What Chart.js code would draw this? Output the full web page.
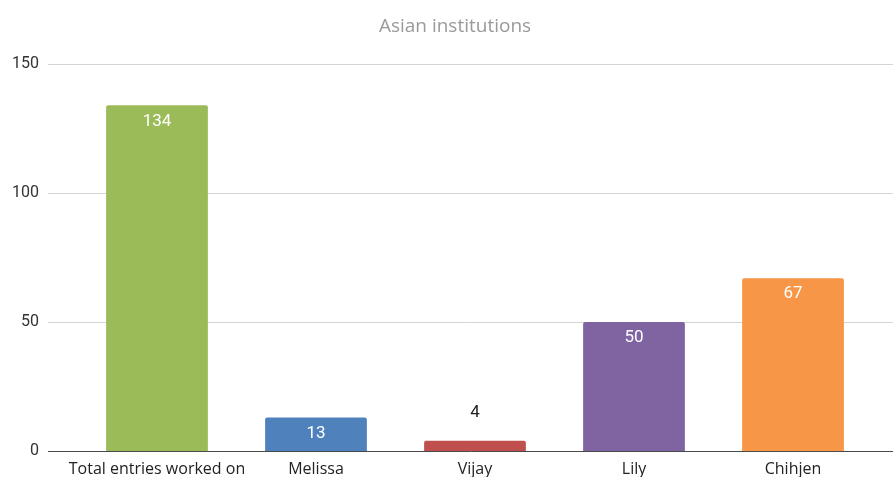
<!DOCTYPE html>
<html>
<head>
<meta charset="utf-8">
<script src="https://cdn.jsdelivr.net/npm/chart.js@4"></script>
<style>
  body { margin: 0; background: #fff; overflow: hidden; }
  canvas { display: block; }
</style>
</head>
<body>
<canvas id="myChart" width="893" height="477"></canvas>
<script>
const categories = ["Total entries worked on", "Melissa", "Vijay", "Lily", "Chihjen"];
const entries = [134, 13, 4, 50, 67];
const barColors = ["#9BBB59", "#4F81BD", "#C0504D", "#8064A2", "#F79646"];
const yTicks = [0, 50, 100, 150];
const chartTitle = "Asian institutions";

// grid lines run wider than the category area in the original
const fullGrid = {
  id: "fullGrid",
  beforeDatasetsDraw(chart) {
    const ctx = chart.ctx;
    const y = chart.scales.y;
    ctx.save();
    ctx.lineWidth = 1;
    y.ticks.forEach((t) => {
      const py = Math.round(y.getPixelForValue(t.value)) + 0.5;
      ctx.strokeStyle = t.value === 0 ? "#4a4a4a" : "#d4d4d4";
      ctx.beginPath();
      ctx.moveTo(48, py);
      ctx.lineTo(chart.width, py);
      ctx.stroke();
    });
    ctx.restore();
  },
};

const barLabels = {
  id: "barLabels",
  afterDatasetsDraw(chart) {
    const ctx = chart.ctx;
    const meta = chart.getDatasetMeta(0);
    ctx.save();
    ctx.font = "17px Roboto";
    ctx.textAlign = "center";
    ctx.textBaseline = "middle";
    meta.data.forEach((bar, i) => {
      const h = bar.base - bar.y;
      if (h > 24) {
        ctx.fillStyle = "#ffffff";
        ctx.fillText(entries[i], bar.x, bar.y + 16);
      } else {
        ctx.fillStyle = "#222222";
        ctx.fillText(entries[i], bar.x, bar.y - 28);
      }
    });
    ctx.fillStyle = "#9a9a9a";
    ctx.font = "19px 'Open Sans'";
    ctx.fillText(chartTitle, 455, 27);
    ctx.restore();
  },
};

const config = {
  type: "bar",
  data: {
    labels: categories,
    datasets: [
      {
        data: entries,
        backgroundColor: barColors,
        borderRadius: 2,
        borderSkipped: "bottom",
        barPercentage: 0.64,
        categoryPercentage: 1,
      },
    ],
  },
  options: {
    responsive: false,
    animation: false,
    layout: {
      padding: { top: 64, right: 20.5, left: 0, bottom: 0 },
    },
    plugins: {
      legend: { display: false },
      title: { display: false },
      tooltip: { enabled: false },
    },
    scales: {
      x: {
        grid: { display: false, drawTicks: false },
        border: { display: false },
        ticks: {
          color: "#222",
          font: { family: "'Open Sans'", size: 16 },
          padding: 9,
          maxRotation: 0,
          autoSkip: false,
        },
        afterFit(scale) {
          scale.height = 26;
        },
      },
      y: {
        min: 0,
        max: 150,
        afterBuildTicks(scale) {
          scale.ticks = yTicks.map((v) => ({ value: v }));
        },
        grid: { display: false, drawTicks: false },
        border: { display: false },
        ticks: {
          color: "#333",
          font: { family: "Roboto", size: 16 },
          padding: 38.5,
        },
        afterFit(scale) {
          scale.width = 77.5;
          // tick padding would otherwise push the chart area up
          scale.paddingTop = 0;
          scale.paddingBottom = 0;
        },
      },
    },
  },
  plugins: [fullGrid, barLabels],
};

const newChart = new Chart("myChart", config);
</script>
</body>
</html>
